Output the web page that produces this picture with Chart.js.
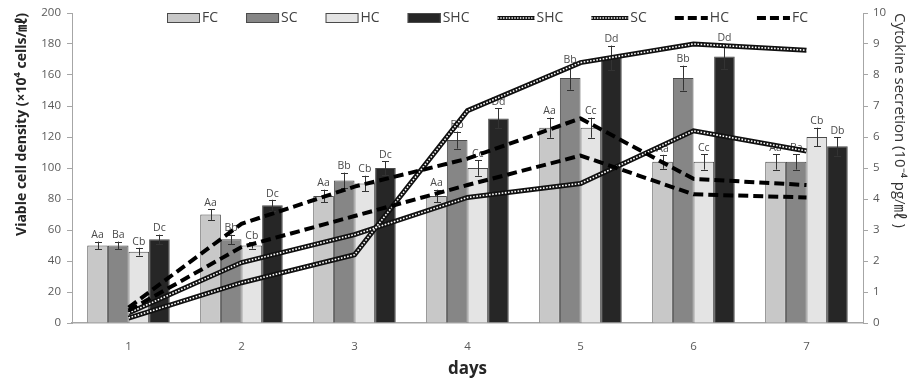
<!DOCTYPE html>
<html>
<head>
<meta charset="utf-8">
<script src="https://cdn.jsdelivr.net/npm/chart.js@4.4.1/dist/chart.umd.min.js"></script>
<style>
html,body{margin:0;padding:0;background:#fff;}
#wrap{width:910px;height:380px;}
</style>
</head>
<body>
<div id="wrap"><canvas id="c" width="910" height="380"></canvas></div>
<script>
// ---- data ----
const days = ['1','2','3','4','5','6','7'];
const fcCell  = [50, 70, 82, 82, 126, 104, 104];
const scCell  = [50, 54, 92, 118, 158, 158, 104];
const hcCell  = [46, 50, 90, 100, 126, 104, 120];
const shcCell = [54, 76, 100, 132, 171, 172, 114];
const fcErr  = [2.5, 3.5, 4, 4, 6.5, 4.5, 5];
const scErr  = [2.5, 3, 5, 5.5, 7.5, 8, 5];
const hcErr  = [2.5, 2, 5, 5, 6.5, 5, 6];
const shcErr = [3, 3.5, 4.5, 6.5, 8, 8, 6];
const fcSig  = ['Aa','Aa','Aa','Aa','Aa','Aa','Aa'];
const scSig  = ['Ba','Bb','Bb','Bb','Bb','Bb','Ba'];
const hcSig  = ['Cb','Cb','Cb','Cc','Cc','Cc','Cb'];
const shcSig = ['Dc','Dc','Dc','Dd','Dd','Dd','Db'];
const shcCyto = [0.16, 1.3, 2.2, 6.85, 8.4, 9.0, 8.8];
const scCyto  = [0.32, 1.95, 2.85, 4.05, 4.5, 6.2, 5.55];
const hcCyto  = [0.5, 3.2, 4.4, 5.3, 6.6, 4.65, 4.45];
const fcCyto  = [0.4, 2.45, 3.45, 4.45, 5.4, 4.15, 4.05];
const leftTicks = [0,20,40,60,80,100,120,140,160,180,200];
const rightTicks = [0,1,2,3,4,5,6,7,8,9,10];

const FONT = '"Open Sans", "Noto Sans CJK KR", sans-serif';
const barColors = {FC:'#c8c8c8', SC:'#868686', HC:'#e4e4e4', SHC:'#262626'};

function barDs(label, data, err, sig) {
  return {type:'bar', label, data, err, sig, yAxisID:'y', order:3,
    backgroundColor:barColors[label], borderColor:'#4a4a4a', borderWidth:1,
    categoryPercentage:0.73, barPercentage:1.0};
}
function hatchBase(label, data) {
  return {type:'line', label, data, yAxisID:'y1', order:2, legendType:'hatch',
    borderColor:'#111', borderWidth:5, pointRadius:0, tension:0, fill:false, borderCapStyle:'butt'};
}
function hatchTop(label, data) {
  return {type:'line', label, data, yAxisID:'y1', order:1, overlay:true,
    borderColor:'#fff', borderWidth:1.6, borderDash:[1.6,1.6], pointRadius:0, tension:0, fill:false, borderCapStyle:'butt'};
}
function dashDs(label, data) {
  return {type:'line', label, data, yAxisID:'y1', order:1, legendType:'dash',
    borderColor:'#000', borderWidth:4, borderDash:[10,5], pointRadius:0, tension:0, fill:false, borderCapStyle:'butt'};
}

const errPlugin = {
  id:'errbars',
  afterDatasetDraw(chart, args) {
    const ds = chart.data.datasets[args.index];
    if (!ds.err) return;
    const ctx = chart.ctx, y = chart.scales.y;
    ctx.save();
    ctx.strokeStyle = '#333'; ctx.lineWidth = 1;
    ctx.fillStyle = '#4a4a4a';
    ctx.font = '10.5px ' + FONT;
    ctx.textAlign = 'center'; ctx.textBaseline = 'bottom';
    args.meta.data.forEach((bar, i) => {
      const x = Math.round(bar.x) + 0.5;
      const hi = y.getPixelForValue(ds.data[i] + ds.err[i]);
      const lo = y.getPixelForValue(ds.data[i] - ds.err[i]);
      ctx.beginPath();
      ctx.moveTo(x, hi); ctx.lineTo(x, lo);
      ctx.moveTo(x-3.5, Math.round(hi)+0.5); ctx.lineTo(x+3.5, Math.round(hi)+0.5);
      ctx.moveTo(x-3.5, Math.round(lo)+0.5); ctx.lineTo(x+3.5, Math.round(lo)+0.5);
      ctx.stroke();
      ctx.fillText(ds.sig[i], bar.x, hi - 1);
    });
    ctx.restore();
  }
};

const legendPlugin = {
  id:'customLegend',
  afterDraw(chart) {
    const ctx = chart.ctx;
    const items = chart.data.datasets.filter(d => !d.overlay);
    ctx.save();
    ctx.font = '14px ' + FONT;
    ctx.textBaseline = 'middle';
    let x = 167; const cy = 18;
    items.forEach(d => {
      let w;
      if (d.type === 'bar') {
        w = 33;
        ctx.fillStyle = d.backgroundColor; ctx.fillRect(x, cy-5, w, 10);
        ctx.strokeStyle = '#4a4a4a'; ctx.lineWidth = 1; ctx.strokeRect(x+0.5, cy-4.5, w-1, 9);
      } else if (d.legendType === 'hatch') {
        w = 37;
        ctx.setLineDash([]); ctx.strokeStyle = '#111'; ctx.lineWidth = 4;
        ctx.beginPath(); ctx.moveTo(x, cy); ctx.lineTo(x+w, cy); ctx.stroke();
        ctx.strokeStyle = '#fff'; ctx.lineWidth = 1.4; ctx.setLineDash([1.4,1.4]);
        ctx.beginPath(); ctx.moveTo(x, cy); ctx.lineTo(x+w, cy); ctx.stroke();
        ctx.setLineDash([]);
      } else {
        w = 33;
        ctx.strokeStyle = '#000'; ctx.lineWidth = 4; ctx.setLineDash([9,4]);
        ctx.beginPath(); ctx.moveTo(x, cy); ctx.lineTo(x+w, cy); ctx.stroke();
        ctx.setLineDash([]);
      }
      ctx.fillStyle = '#404040';
      ctx.textAlign = 'left';
      ctx.fillText(d.label, x + w + 2, cy);
      x += w + 2 + ctx.measureText(d.label).width + 28;
    });
    ctx.restore();
  }
};

const datasets = [
  barDs('FC', fcCell, fcErr, fcSig),
  barDs('SC', scCell, scErr, scSig),
  barDs('HC', hcCell, hcErr, hcSig),
  barDs('SHC', shcCell, shcErr, shcSig),
  hatchBase('SHC', shcCyto),
  hatchBase('SC', scCyto),
  dashDs('HC', hcCyto),
  dashDs('FC', fcCyto),
  hatchTop('SHC', shcCyto),
  hatchTop('SC', scCyto)
];

new Chart(document.getElementById('c'), {
  data:{labels:days, datasets},
  plugins:[errPlugin, legendPlugin],
  options:{
    responsive:false, animation:false,
    layout:{padding:{left:12, top:13, right:0, bottom:0}},
    plugins:{legend:{display:false}, tooltip:{enabled:false}},
    scales:{
      x:{
        grid:{display:false}, border:{color:'#a6a6a6', width:1.5},
        ticks:{color:'#595959', font:{size:11.5, family:FONT}, padding:9},
        title:{display:true, text:'days', color:'#262626', font:{size:17, weight:'bold', family:FONT}, padding:{top:0,bottom:1}},
        afterFit(s){ s.height = 57; }
      },
      y:{
        position:'left', min:0, max:200,
        afterBuildTicks(s){ s.ticks = leftTicks.map(v => ({value:v})); },
        grid:{drawOnChartArea:false, drawTicks:true, tickLength:5, color:'#a6a6a6'},
        border:{color:'#a6a6a6'},
        ticks:{color:'#595959', font:{size:11.5, family:FONT}, padding:6},
        title:{display:true, align:'end', text:'Viable cell density (×10⁴ cells/㎖)', color:'#262626', font:{size:14, weight:'bold', family:FONT}, padding:2},
        afterFit(s){ s.width = 60; }
      },
      y1:{
        position:'right', min:0, max:10,
        afterBuildTicks(s){ s.ticks = rightTicks.map(v => ({value:v})); },
        grid:{drawOnChartArea:false, drawTicks:true, tickLength:5, color:'#a6a6a6'},
        border:{color:'#a6a6a6'},
        ticks:{color:'#595959', font:{size:11.5, family:FONT}, padding:5},
        title:{display:true, align:'end', text:'Cytokine secretion (10⁻⁴ pg/㎖ )', color:'#333', font:{size:15, family:FONT}, padding:2},
        afterFit(s){ s.width = 47; }
      }
    }
  }
});
</script>
</body>
</html>
